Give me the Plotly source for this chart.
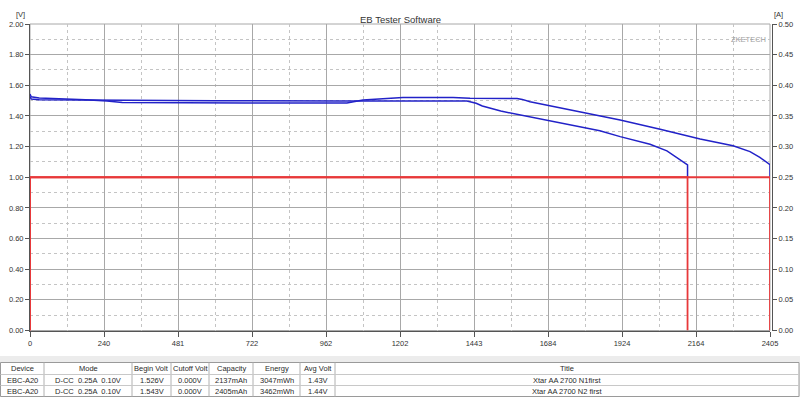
import plotly.graph_objects as go

# ---------------- data ----------------
# Series N1 (Xtar AA 2700 N1first) : capacity [mAh] vs voltage [V]
n1_cap = [0, 4, 30, 200, 600, 1000, 1300, 1420, 1450, 1470, 1530, 1635, 1750, 1852, 1918,
          2015, 2070, 2112, 2130, 2137, 2137]
n1_volt = [1.526, 1.510, 1.505, 1.502, 1.499, 1.498, 1.497, 1.497, 1.483, 1.465, 1.432, 1.390,
           1.348, 1.303, 1.265, 1.215, 1.172, 1.117, 1.090, 1.080, 1.0]

# Series N2 (Xtar AA 2700 N2 first)
n2_cap = [0, 4, 30, 88, 180, 250, 300, 700, 1030, 1082, 1137, 1212, 1375, 1430, 1583, 1600,
          1625, 1740, 1852, 1918, 2048, 2178, 2285, 2340, 2372, 2398, 2405, 2405]
n2_volt = [1.543, 1.525, 1.517, 1.514, 1.506, 1.497, 1.487, 1.485, 1.484, 1.504, 1.512, 1.521,
           1.521, 1.515, 1.514, 1.508, 1.493, 1.448, 1.403, 1.374, 1.313, 1.250, 1.205, 1.167,
           1.130, 1.095, 1.082, 1.0]

# Discharge current [A]
i1_cap = [0, 0, 2137, 2137]
i1_amp = [0.0, 0.25, 0.25, 0.0]
i2_cap = [0, 0, 2405, 2405]
i2_amp = [0.0, 0.25, 0.25, 0.0]

x_tickvals = [0, 240.5, 481, 721.5, 962, 1202.5, 1443, 1683.5, 1924, 2164.5, 2405]
x_ticktext = ["0", "240", "481", "722", "962", "1202", "1443", "1684", "1924", "2164", "2405"]
v_tickvals = [0.0, 0.2, 0.4, 0.6, 0.8, 1.0, 1.2, 1.4, 1.6, 1.8, 2.0]
v_ticktext = ["0.00", "0.20", "0.40", "0.60", "0.80", "1.00", "1.20", "1.40", "1.60", "1.80", "2.00"]
a_tickvals = [0.0, 0.05, 0.10, 0.15, 0.20, 0.25, 0.30, 0.35, 0.40, 0.45, 0.50]
a_ticktext = ["0.00", "0.05", "0.10", "0.15", "0.20", "0.25", "0.30", "0.35", "0.40", "0.45", "0.50"]

# table
tbl_header = ["Device", "Mode", "Begin Volt", "Cutoff Volt", "Capacity", "Energy", "Avg Volt", "Title"]
tbl_device = ["EBC-A20", "EBC-A20"]
tbl_mode = ["D-CC  0.25A  0.10V", "D-CC  0.25A  0.10V"]
tbl_begin = ["1.526V", "1.543V"]
tbl_cutoff = ["0.000V", "0.000V"]
tbl_capacity = ["2137mAh", "2405mAh"]
tbl_energy = ["3047mWh", "3462mWh"]
tbl_avg = ["1.43V", "1.44V"]
tbl_title = ["Xtar AA 2700 N1first", "Xtar AA 2700 N2 first"]

# ---------------- figure ----------------
W, H = 800, 397
FONT = "Liberation Sans"
BLUE = "#2222c8"
RED = "#e8383a"
TXT = "#2a2a2a"


def py(px):  # pixel row -> paper y
    return 1 - px / H


def pxx(px):
    return px / W


fig = go.Figure()

fig.add_trace(go.Scatter(x=n1_cap, y=n1_volt, mode="lines", line=dict(color=BLUE, width=1.5),
                         name="N1", showlegend=False, hoverinfo="skip"))
fig.add_trace(go.Scatter(x=n2_cap, y=n2_volt, mode="lines", line=dict(color=BLUE, width=1.5),
                         name="N2", showlegend=False, hoverinfo="skip"))
fig.add_trace(go.Scatter(x=i1_cap, y=i1_amp, mode="lines", line=dict(color=RED, width=1.8),
                         yaxis="y2", showlegend=False, hoverinfo="skip"))
fig.add_trace(go.Scatter(x=i2_cap, y=i2_amp, mode="lines", line=dict(color=RED, width=1.8),
                         yaxis="y2", showlegend=False, hoverinfo="skip"))

tickfont = dict(family=FONT, size=7.5, color="#333333")
fig.update_layout(
    width=W, height=H,
    margin=dict(l=0, r=0, t=0, b=0, autoexpand=False),
    paper_bgcolor="#ffffff", plot_bgcolor="#ffffff",
    font=dict(family=FONT),
    xaxis=dict(domain=[pxx(30), pxx(770)], range=[0, 2405], automargin=False,
               tickmode="array", tickvals=x_tickvals, ticktext=x_ticktext,
               ticks="outside", ticklen=5, tickcolor="#555555", tickfont=tickfont,
               showline=True, linecolor="#555555", linewidth=1,
               showgrid=True, gridcolor="#a8a8a8", gridwidth=1, zeroline=False,
               minor=dict(tick0=120.25, dtick=240.5, showgrid=True, gridcolor="#c4c4c4",
                          griddash="dot", gridwidth=1, ticks="")),
    yaxis=dict(domain=[py(330.5), py(24)], range=[0, 2.0], automargin=False,
               tickmode="array", tickvals=v_tickvals, ticktext=v_ticktext,
               ticks="outside", ticklen=4, tickcolor="#555555", tickfont=tickfont,
               showline=True, linecolor="#555555", linewidth=1,
               showgrid=True, gridcolor="#a8a8a8", gridwidth=1, zeroline=False,
               minor=dict(tick0=0.1, dtick=0.2, showgrid=True, gridcolor="#c4c4c4",
                          griddash="dot", gridwidth=1, ticks="")),
    yaxis2=dict(overlaying="y", side="right", anchor="free", position=pxx(772),
                automargin=False,
                range=[0, 0.5], tickmode="array", tickvals=a_tickvals, ticktext=a_ticktext,
                ticks="outside", ticklen=4, tickcolor="#555555", tickfont=tickfont,
                showline=True, linecolor="#555555", linewidth=1,
                showgrid=False, zeroline=False),
)

shapes = []
annotations = []

# light grey band behind the table
shapes.append(dict(type="rect", xref="paper", yref="paper", x0=0, x1=1, y0=0, y1=py(356),
                   fillcolor="#ececec", line=dict(width=0), layer="below"))
# plot frame (top/right)
shapes.append(dict(type="rect", xref="paper", yref="paper", x0=pxx(30), x1=pxx(770),
                   y0=py(330.5), y1=py(24), line=dict(color="#a8a8a8", width=1), layer="below"))

# ---- table drawn with shapes + text ----
col_edges = [0.5, 44, 132, 171, 209, 253, 300, 335, 799]
row_edges = [362.5, 374.5, 385.5, 396.5]
shapes.append(dict(type="rect", xref="paper", yref="paper",
                   x0=pxx(col_edges[0]), x1=pxx(col_edges[-1]),
                   y0=py(row_edges[-1]), y1=py(row_edges[0]),
                   fillcolor="#ffffff", line=dict(color="#9a9a9a", width=1), layer="below"))
for cx in col_edges[1:-1]:
    shapes.append(dict(type="line", xref="paper", yref="paper", x0=pxx(cx), x1=pxx(cx),
                       y0=py(row_edges[-1]), y1=py(row_edges[0]),
                       line=dict(color="#b0b0b0", width=1)))
for ry in row_edges[1:-1]:
    shapes.append(dict(type="line", xref="paper", yref="paper", x0=pxx(col_edges[0]),
                       x1=pxx(col_edges[-1]), y0=py(ry), y1=py(ry),
                       line=dict(color="#c8c8c8", width=1)))

columns = [tbl_device, tbl_mode, tbl_begin, tbl_cutoff, tbl_capacity, tbl_energy, tbl_avg, tbl_title]
rows = [tbl_header] + [[col[r] for col in columns] for r in range(2)]
for ri, row in enumerate(rows):
    yc = (row_edges[ri] + row_edges[ri + 1]) / 2
    for ci, txt in enumerate(row):
        xc = (col_edges[ci] + col_edges[ci + 1]) / 2
        annotations.append(dict(text=txt, xref="paper", yref="paper", x=pxx(xc), y=py(yc),
                                showarrow=False, xanchor="center", yanchor="middle",
                                font=dict(family=FONT, size=7.5, color=TXT)))

annotations += [
    dict(text="EB Tester Software", xref="paper", yref="paper", x=0.5, y=py(12),
         showarrow=False, font=dict(family=FONT, size=9.5, color="#333333")),
    dict(text="[V]", xref="paper", yref="paper", x=pxx(14), y=py(8),
         showarrow=False, font=dict(family=FONT, size=7.5, color="#333333")),
    dict(text="[A]", xref="paper", yref="paper", x=pxx(785), y=py(8),
         showarrow=False, font=dict(family=FONT, size=7.5, color="#333333")),
    dict(text="ZKETECH", xref="paper", yref="paper", x=pxx(768), y=py(33),
         xanchor="right", showarrow=False,
         font=dict(family=FONT, size=7.5, color="#a0a0a0")),
]

fig.update_layout(shapes=shapes, annotations=annotations)

fig.write_html(
    "out.html",
    config={"displayModeBar": False},
    post_script="document.body.style.margin='0';document.body.style.overflow='hidden';",
)
